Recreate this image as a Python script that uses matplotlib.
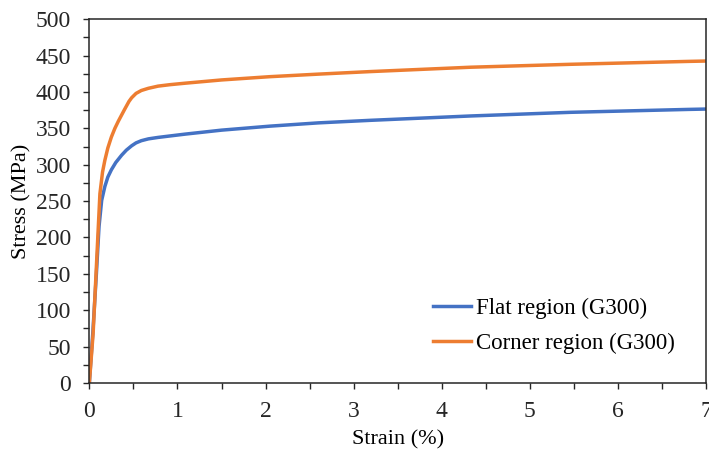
import matplotlib.pyplot as plt
from matplotlib.ticker import MultipleLocator

plt.rcParams['font.family'] = ['Liberation Serif', 'DejaVu Serif']

# strain (%) and stress (MPa)
flat_strain = [0, 0.04, 0.08, 0.11, 0.14, 0.176, 0.21, 0.25, 0.30, 0.366, 0.42, 0.48,
               0.53, 0.59, 0.67, 0.78, 0.915, 1.085, 1.5, 2.05, 2.6, 3.19, 4.33,
               5.46, 6.8, 7.0]
flat_stress = [0, 70, 150, 215, 251, 270, 283, 293, 303, 313, 320, 326,
               330, 333, 335.5, 337.5, 339.5, 342, 347.5, 353, 357.5, 361, 367,
               372, 376, 376.5]

corner_strain = [0, 0.043, 0.08, 0.12, 0.15, 0.176, 0.21, 0.25, 0.29, 0.33, 0.40,
                 0.45, 0.48, 0.53, 0.59, 0.67, 0.78, 0.915, 1.085, 1.5, 2.05, 2.6,
                 3.19, 4.33, 5.46, 6.8, 7.0]
corner_stress = [0, 68, 160, 260, 290, 306, 323, 338, 350, 360, 376,
                 387, 392, 398, 402, 405, 408, 410, 412, 416.5, 421, 424.5,
                 428, 434, 438, 442, 442.5]

fig = plt.figure(figsize=(7.09, 4.57), dpi=100)
ax = fig.add_axes([0.126, 0.162, 0.870, 0.796])

ax.plot(flat_strain, flat_stress, color='#4472C4', lw=2.5, label='Flat region (G300)')
ax.plot(corner_strain, corner_stress, color='#ED7D31', lw=2.5, label='Corner region (G300)')

ax.set_xlim(0, 7)
ax.set_ylim(0, 500)
ax.xaxis.set_major_locator(MultipleLocator(1))
ax.xaxis.set_minor_locator(MultipleLocator(0.5))
ax.yaxis.set_major_locator(MultipleLocator(50))
ax.yaxis.set_minor_locator(MultipleLocator(25))
ax.tick_params(which='major', direction='out', length=4.5, width=1, pad=8.5,
               labelsize=17, colors='#262626')
ax.tick_params(which='minor', direction='out', length=4, width=1, colors='#262626')
for s in ax.spines.values():
    s.set_linewidth(1.1)
    s.set_color('#262626')

ax.set_xlabel('Strain (%)', fontsize=16, labelpad=6)
ax.set_ylabel('Stress (MPa)', fontsize=16, labelpad=3)

ax.legend(loc='lower left', bbox_to_anchor=(0.543, 0.055), borderaxespad=0,
          frameon=False, fontsize=16.5, handlelength=1.65, handletextpad=0.2,
          labelspacing=0.6)

fig.savefig('out.png', dpi=100)
